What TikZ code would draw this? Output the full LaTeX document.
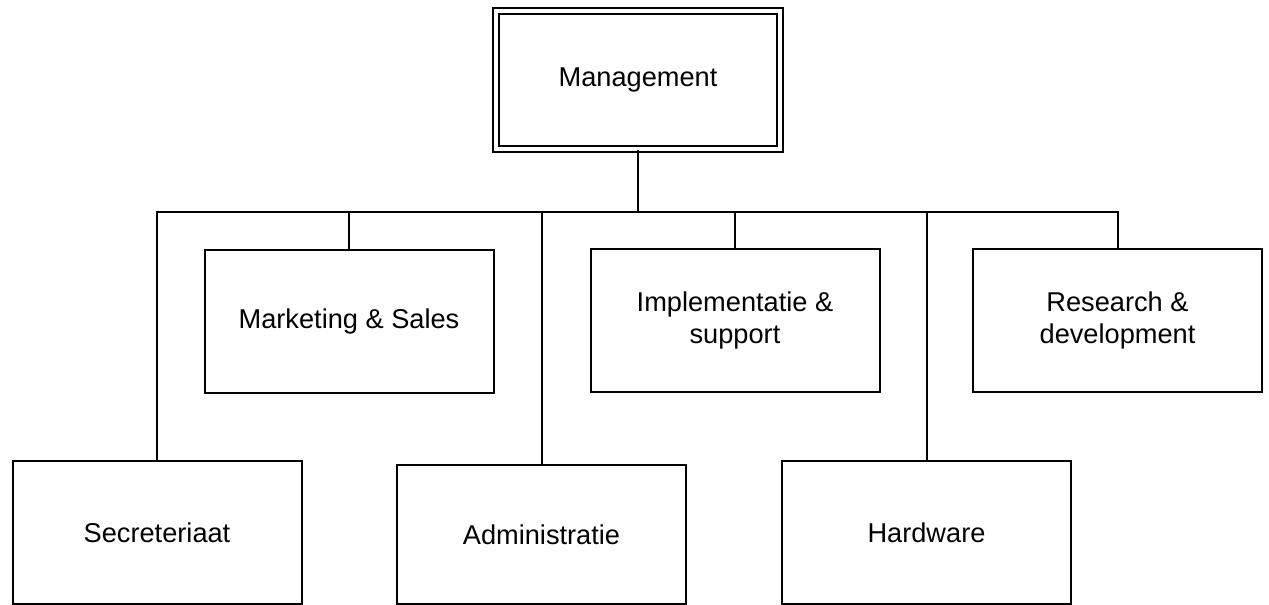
\documentclass[tikz,border=0pt]{standalone}
\usepackage{fontspec}
\setmainfont{Liberation Sans}
\usepackage{tikz}
\usetikzlibrary{positioning}
\tikzset{
  orgbox/.style={rectangle, draw=black, fill=white, line width=1pt,
    minimum width=144.5pt, minimum height=71.5pt, inner sep=0pt,
    align=center, font=\fontsize{13.6}{16.4}\selectfont},
  topbox/.style={orgbox, double=white, double distance=2pt, line width=1pt,
    minimum width=142pt, minimum height=69pt},
  link/.style={line width=1pt, color=black}
}

\begin{document}
\begin{tikzpicture}[x=0.5pt, y=-0.5pt]
  \useasboundingbox (0,0) rectangle (1269,605);

  % Top of the chart
  \node[topbox] (mgmt) at (638,80) {Management};

  % Upper row of departments
  \node[orgbox] (mark) at (349,321) {Marketing \& Sales};
  \node[orgbox] (impl) at (735,320.5) {Implementatie \&\\support};
  \node[orgbox] (rnd) at (1117.5,320.5) {Research \&\\development};

  % Lower row of departments
  \node[orgbox] (secr) at (157,532.5) {Secreteriaat};
  \node[orgbox, minimum height=69.5pt] (admin) at (541.5,534.5) {Administratie};
  \node[orgbox] (hw) at (926.5,532.5) {Hardware};

  % Bus line and branches
  \coordinate (bus) at (638,212);
  \draw[link] (mgmt.south) -- (bus);
  \foreach \dept in {mark, impl, rnd, secr, admin, hw}
    \draw[link] (\dept.north) |- (bus);
\end{tikzpicture}
\end{document}
